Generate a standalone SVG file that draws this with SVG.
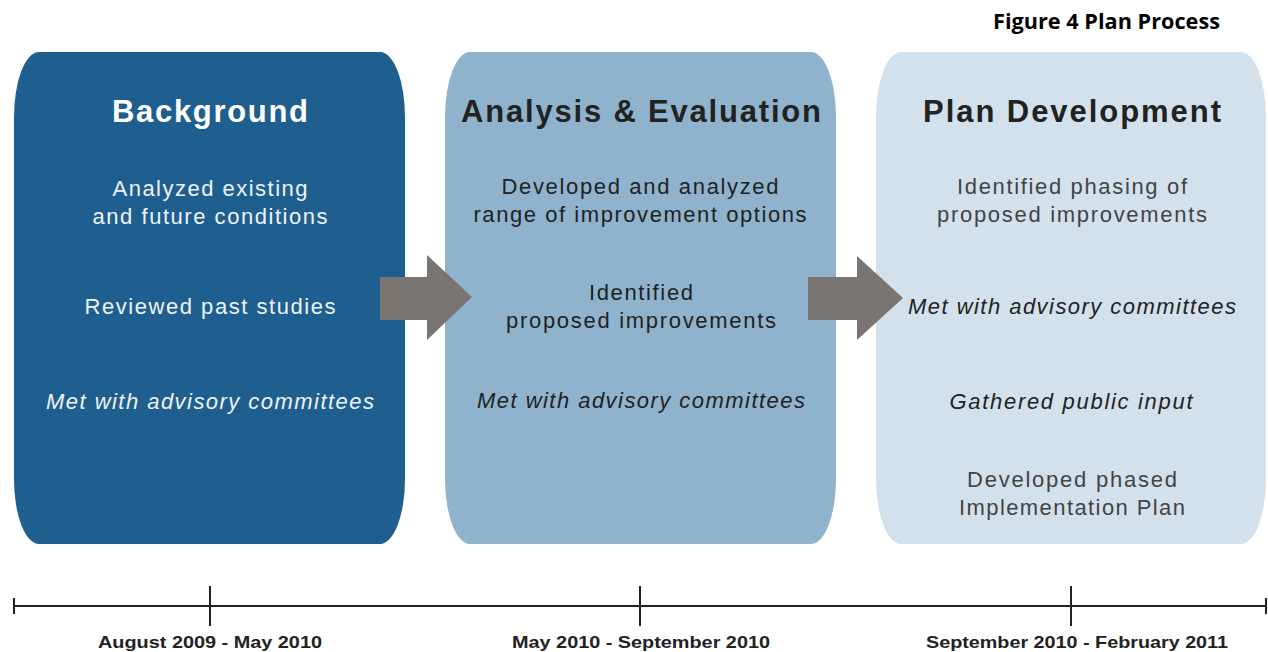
<svg xmlns="http://www.w3.org/2000/svg" width="1268" height="652" viewBox="0 0 1268 652">
<style>
.h{font-family:"Liberation Sans",Arial,sans-serif;font-weight:bold;font-size:31px;text-anchor:middle}
.b{font-family:"Liberation Sans",Arial,sans-serif;font-size:22px;text-anchor:middle}
.i{font-style:italic}
.w{fill:#eef3f8}
.d1{fill:#222}
.d2{fill:#444}
.date{font-family:"Liberation Sans",Arial,sans-serif;font-weight:bold;font-size:17px;fill:#222;text-anchor:middle}
.arrow{fill:#7a7573}
.tl{stroke:#222;stroke-width:2;fill:none}
</style>
<rect width="1268" height="652" fill="#ffffff"/>
<text x="1220" y="29" font-family="'Open Sans','Liberation Sans',sans-serif" font-weight="bold" font-size="21" text-anchor="end" fill="#000" textLength="227" lengthAdjust="spacingAndGlyphs">Figure 4 Plan Process</text>

<g id="background">
<path d="M39,52 H380 A25,65 0 0 1 405,117 V479 A25,65 0 0 1 380,544 H39 A25,65 0 0 1 14,479 V117 A25,65 0 0 1 39,52 Z" fill="#1f5f8f"/>
<text class="h" x="210" y="122" fill="#ffffff" textLength="196">Background</text>
<text class="b w" x="210" y="196" textLength="195">Analyzed existing</text>
<text class="b w" x="210" y="224" textLength="235">and future conditions</text>
<text class="b w" x="210" y="314" textLength="251">Reviewed past studies</text>
<text class="b w i" x="210" y="409" textLength="328">Met with advisory committees</text>
</g>

<g id="analysis">
<path d="M470,52 H811 A25,65 0 0 1 836,117 V479 A25,65 0 0 1 811,544 H470 A25,65 0 0 1 445,479 V117 A25,65 0 0 1 470,52 Z" fill="#8fb3cc"/>
<text class="h d1" x="641" y="122" textLength="360">Analysis &amp; Evaluation</text>
<text class="b d1" x="640" y="194" textLength="277">Developed and analyzed</text>
<text class="b d1" x="640" y="222" textLength="333">range of improvement options</text>
<text class="b d1" x="641" y="300" textLength="104">Identified</text>
<text class="b d1" x="641" y="328" textLength="270">proposed improvements</text>
<text class="b d1 i" x="641" y="408" textLength="328">Met with advisory committees</text>
</g>

<g id="plan">
<path d="M901,52 H1241 A25,65 0 0 1 1266,117 V479 A25,65 0 0 1 1241,544 H901 A25,65 0 0 1 876,479 V117 A25,65 0 0 1 901,52 Z" fill="#d3e1ec"/>
<text class="h d1" x="1072" y="122" textLength="298">Plan Development</text>
<text class="b d2" x="1072" y="194" textLength="230">Identified phasing of</text>
<text class="b d2" x="1072" y="222" textLength="270">proposed improvements</text>
<text class="b d1 i" x="1072" y="314" textLength="328">Met with advisory committees</text>
<text class="b d1 i" x="1071" y="409" textLength="243">Gathered public input</text>
<text class="b d2" x="1072" y="487" textLength="210">Developed phased</text>
<text class="b d2" x="1072" y="515" textLength="226">Implementation Plan</text>
</g>

<g id="connectors">
<polygon class="arrow" points="380,277 427,277 427,255 472,297 427,340 427,320 380,320"/>
<polygon class="arrow" points="808,277 857,277 857,256 903,298 857,340 857,320 808,320"/>
</g>

<g id="timeline">
<line class="tl" x1="14" y1="606" x2="1266" y2="606"/>
<line class="tl" x1="14" y1="598" x2="14" y2="614"/>
<line class="tl" x1="1266" y1="598" x2="1266" y2="614"/>
<line class="tl" x1="210" y1="586" x2="210" y2="626"/>
<line class="tl" x1="640" y1="586" x2="640" y2="626"/>
<line class="tl" x1="1071" y1="586" x2="1071" y2="626"/>
<text class="date" x="210" y="648" textLength="224" lengthAdjust="spacingAndGlyphs">August 2009 - May 2010</text>
<text class="date" x="641" y="648" textLength="258" lengthAdjust="spacingAndGlyphs">May 2010 - September 2010</text>
<text class="date" x="1077" y="648" textLength="302" lengthAdjust="spacingAndGlyphs">September 2010 - February 2011</text>
</g>
</svg>
